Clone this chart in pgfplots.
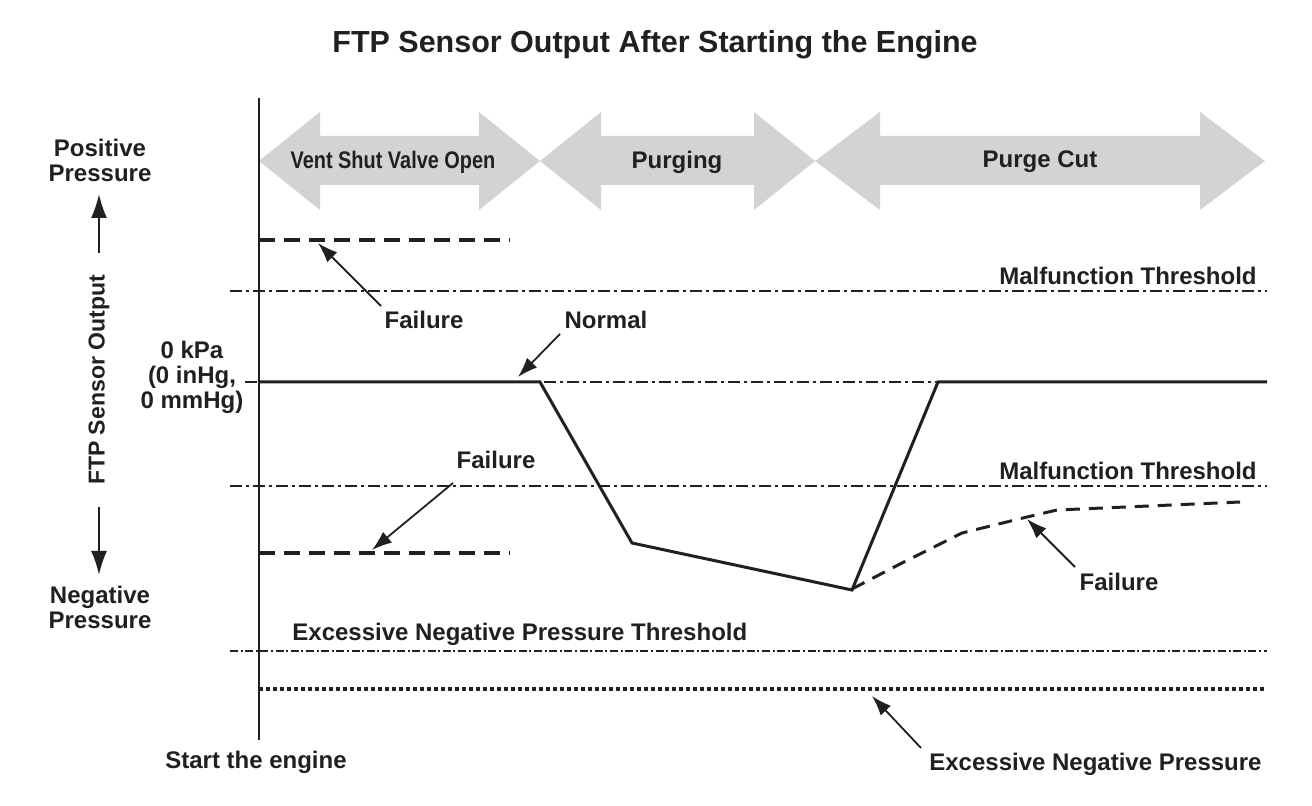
\documentclass[border=0pt]{standalone}
\usepackage{graphicx}
\usepackage{pgfplots}
\pgfplotsset{compat=1.18}
\usepackage{fontspec}
\setmainfont{Liberation Sans}
\usetikzlibrary{arrows.meta}
\definecolor{ink}{RGB}{35,31,32}
\definecolor{band}{RGB}{209,211,212}
\tikzset{
	lbl/.style={text=ink, font=\bfseries\fontsize{12}{12.5}\selectfont},
	ptr/.style={ink, line width=0.9pt, -{Latex[length=10pt,width=7pt]}},
}

\begin{document}
\begin{tikzpicture}
\begin{axis}[
	x=0.5pt, y=0.5pt,
	y dir=reverse,
	xmin=0, xmax=1312,
	ymin=0, ymax=806,
	hide axis,
	clip=false,
	]
	\path (0,0) rectangle (1312,806);
	% phase arrows
	\addplot [fill=band, draw=none] coordinates {(259,161) (320,112) (320,136) (479,136) (479,112) (540,161) (479,210) (479,185) (320,185) (320,210)} -- cycle;
	\addplot [fill=band, draw=none] coordinates {(540,161) (601,112) (601,136) (754,136) (754,112) (815,161) (754,210) (754,185) (601,185) (601,210)} -- cycle;
	\addplot [fill=band, draw=none] coordinates {(815,161) (880,112) (880,136) (1200,136) (1200,112) (1265,161) (1200,210) (1200,185) (880,185) (880,210)} -- cycle;
	\node [lbl] at (393,162) {\scalebox{0.83}[1]{Vent Shut Valve Open}};
	\node [lbl] at (677,162) {Purging};
	\node [lbl] at (1040,162) {Purge Cut};

	% thresholds
	\addplot [ink, line width=0.9pt, dash pattern=on 6pt off 2pt on 1.5pt off 2pt] coordinates {(230,291) (1267,291)};
	\addplot [ink, line width=0.9pt, dash pattern=on 6pt off 2pt on 1.5pt off 2pt] coordinates {(245,382) (1267,382)};
	\addplot [ink, line width=0.9pt, dash pattern=on 6pt off 2pt on 1.5pt off 2pt] coordinates {(230,486) (1267,486)};
	\addplot [ink, line width=1.2pt, dash pattern=on 4pt off 1.3pt on 1pt off 1.3pt] coordinates {(230,651) (1267,651)};
	\addplot [ink, line width=2pt, dash pattern=on 2pt off 1.5pt] coordinates {(259,689) (1267,689)};

	% failure traces
	\addplot [ink, line width=1.7pt, dash pattern=on 8pt off 4.5pt] coordinates {(259,240) (510,240)};
	\addplot [ink, line width=1.7pt, dash pattern=on 8pt off 4.5pt] coordinates {(259,553) (510,553)};
	\addplot [ink, line width=1.5pt, dash pattern=on 7pt off 4.5pt] coordinates {(852,589) (900,564) (962,533) (1027,517) (1057,510) (1240,502)};

	% normal trace
	\addplot [ink, line width=1.5pt, line join=miter] coordinates {(259,382) (540,382) (632,543) (852,590) (938,382) (1267,382)};

	% vertical axis
	\draw [ink, line width=1.1pt] (259,98) -- (259,740);

	% left labels
	\node [lbl, align=center] at (100,160) {Positive\\Pressure};
	\node [lbl, align=center] at (100,607) {Negative\\Pressure};
	\node [lbl, rotate=90] at (99,380) {\scalebox{0.96}{FTP Sensor Output}};
	\draw [ink, line width=1pt, -{Latex[length=12pt,width=8pt]}] (99,253) -- (99,194);
	\draw [ink, line width=1pt, -{Latex[length=12pt,width=8pt]}] (99,507) -- (99,575);
	\node [lbl, align=center] at (192,377) {0 kPa\\(0 inHg,\\0 mmHg)};

	% labels
	\node [lbl] at (655,45) {\scalebox{1.27}{FTP Sensor Output After Starting the Engine}};
	\node [lbl, anchor=east, inner sep=0pt] at (1257,276) {Malfunction Threshold};
	\node [lbl, anchor=east, inner sep=0pt] at (1257,471) {Malfunction Threshold};
	\node [lbl, anchor=west, inner sep=0pt] at (292,634) {Excessive Negative Pressure Threshold};
	\node [lbl, anchor=east, inner sep=0pt] at (1262,764) {Excessive Negative Pressure};
	\node [lbl] at (256,762) {Start the engine};
	\node [lbl] at (424,320) {Failure};
	\node [lbl] at (606,320) {Normal};
	\node [lbl] at (496,460) {Failure};
	\node [lbl] at (1119,582) {Failure};

	% pointers
	\draw [ptr] (381,306) -- (318,243);
	\draw [ptr] (560,334) -- (518,377);
	\draw [ptr] (453,483) -- (372,550);
	\draw [ptr] (1075,567) -- (1027,519);
	\draw [ptr] (921,748) -- (872,696);
\end{axis}
\end{tikzpicture}
\end{document}
